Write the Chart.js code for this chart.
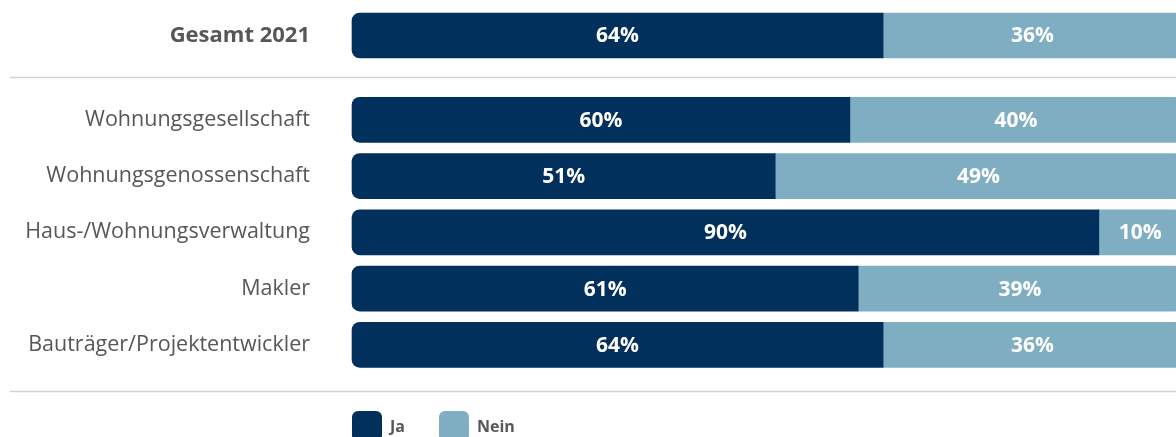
<!DOCTYPE html>
<html>
<head>
<meta charset="utf-8">
<script src="https://cdn.jsdelivr.net/npm/chart.js@4.4.0/dist/chart.umd.min.js"></script>
<style>
  html, body { margin: 0; padding: 0; background: #ffffff; }
  #wrap { position: relative; width: 1176px; height: 437px; }
</style>
</head>
<body>
<div id="wrap"><canvas id="c"></canvas></div>
<script>
// ---- data ----
const categories = ['Gesamt 2021', 'Wohnungsgesellschaft', 'Wohnungsgenossenschaft', 'Haus-/Wohnungsverwaltung', 'Makler', 'Bauträger/Projektentwickler'];
const seriesNames = ['Ja', 'Nein'];
const jaValues = [64, 60, 51, 90, 61, 64];
const neinValues = [36, 40, 49, 10, 39, 36];

// ---- styling ----
const DARK = '#01305D';
const LIGHT = '#7FAEC3';
const GREY = '#575757';
const FONT = '"Open Sans", "Noto Sans", sans-serif';

// half-height slots: Gesamt in slot 0, then categories every 2 slots from slot 3
const slotOf = categories.map((c, i) => i === 0 ? 0 : 1 + 2 * i);
const slotCount = slotOf[slotOf.length - 1] + 1;
const slotLabels = Array.from({length: slotCount}, () => '');
const jaSlots = Array.from({length: slotCount}, () => null);
const neinSlots = Array.from({length: slotCount}, () => null);
categories.forEach((c, i) => {
  slotLabels[slotOf[i]] = c;
  jaSlots[slotOf[i]] = jaValues[i];
  neinSlots[slotOf[i]] = neinValues[i];
});

const valueLabels = {
  id: 'valueLabels',
  afterDatasetsDraw(chart) {
    const ctx = chart.ctx;
    ctx.save();
    ctx.fillStyle = '#ffffff';
    ctx.font = 'bold 21px ' + FONT;
    ctx.textAlign = 'center';
    ctx.textBaseline = 'middle';
    chart.data.datasets.forEach((ds, di) => {
      const meta = chart.getDatasetMeta(di);
      meta.data.forEach((el, i) => {
        const v = ds.data[i];
        if (v == null) return;
        const cx = (el.x + el.base) / 2;
        ctx.fillText(v + '%', cx, el.y + 1);
      });
    });
    ctx.restore();
  }
};

const separators = {
  id: 'separators',
  beforeDatasetsDraw(chart) {
    const y = chart.scales.y;
    const ctx = chart.ctx;
    ctx.save();
    ctx.strokeStyle = '#d2d2d2';
    ctx.lineWidth = 1.5;
    [1.46, 12.63].forEach(p => {
      const py = Math.round(y.getPixelForValue(p)) + 0.5;
      ctx.beginPath();
      ctx.moveTo(10, py);
      ctx.lineTo(chart.width, py);
      ctx.stroke();
    });
    ctx.restore();
  }
};

const customLegend = {
  id: 'customLegend',
  afterDraw(chart) {
    const ctx = chart.ctx;
    ctx.save();
    let x = chart.chartArea.left;
    const top = 411;
    const size = 30;
    ctx.font = 'bold 16px ' + FONT;
    ctx.textBaseline = 'middle';
    ctx.textAlign = 'left';
    chart.data.datasets.forEach(ds => {
      ctx.fillStyle = ds.backgroundColor;
      ctx.beginPath();
      ctx.roundRect(x, top, size, size, 6);
      ctx.fill();
      ctx.fillStyle = GREY;
      const tx = x + size + 8;
      ctx.fillText(ds.label, tx, top + 16);
      x = tx + ctx.measureText(ds.label).width + 34;
    });
    ctx.restore();
  }
};

new Chart(document.getElementById('c'), {
  type: 'bar',
  data: {
    labels: slotLabels,
    datasets: [
      { label: seriesNames[0], data: jaSlots, backgroundColor: DARK,
        borderRadius: {topLeft: 8, bottomLeft: 8, topRight: 0, bottomRight: 0}, borderSkipped: false, clip: false },
      { label: seriesNames[1], data: neinSlots, backgroundColor: LIGHT,
        borderRadius: {topLeft: 0, bottomLeft: 0, topRight: 8, bottomRight: 8}, borderSkipped: false, clip: false }
    ]
  },
  options: {
    indexAxis: 'y',
    responsive: true,
    maintainAspectRatio: false,
    animation: false,
    barThickness: 45,
    layout: { padding: { top: 21.4, bottom: 78.1, left: 0, right: 0 } },
    plugins: { legend: { display: false }, tooltip: { enabled: false } },
    scales: {
      x: { stacked: true, min: 0, max: 99.3, display: false },
      y: {
        stacked: true,
        grid: { display: false, drawTicks: false },
        border: { display: false },
        ticks: {
          autoSkip: false,
          padding: 42,
          color: GREY,
          font: (ctx) => ctx.index === 0
            ? { family: FONT, size: 22, weight: 'bold' }
            : { family: FONT, size: 21.5, weight: 'normal' }
        },
        afterFit(scale) {
          scale.width = 352;
          scale.paddingTop = 0;
          scale.paddingBottom = 0;
        }
      }
    }
  },
  plugins: [separators, valueLabels, customLegend]
});
</script>
</body>
</html>
